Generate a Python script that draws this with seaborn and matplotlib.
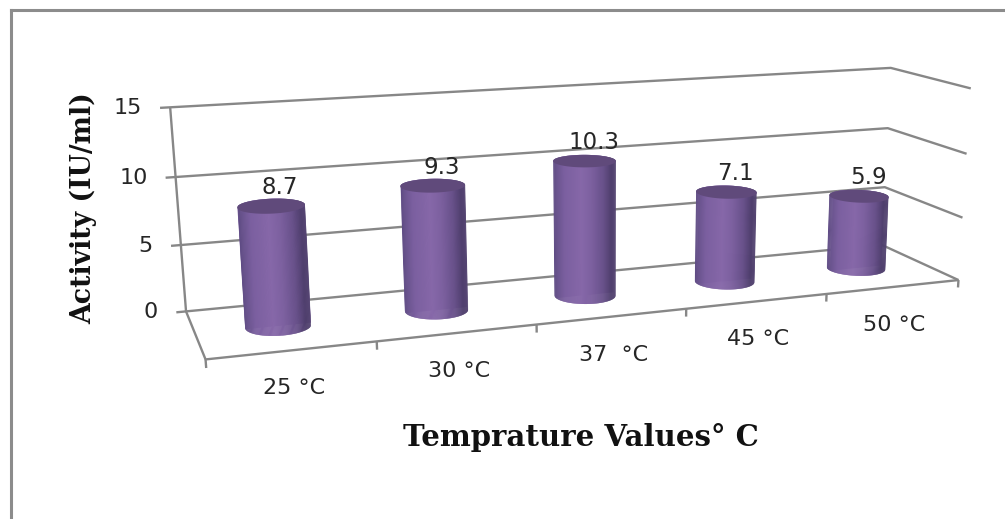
import numpy as np
import pandas as pd
import matplotlib
matplotlib.use("Agg")
import matplotlib.pyplot as plt
from matplotlib.collections import PolyCollection
from matplotlib.patches import Polygon
from matplotlib.transforms import Affine2D, Transform
import seaborn as sns

temps = ["25 °C", "30 °C", "37  °C", "45 °C", "50 °C"]
activity = [8.7, 9.3, 10.3, 7.1, 5.9]
y_ticks = [0, 5, 10, 15]
x_title = "Temprature Values° C"
y_title = "Activity (IU/ml)"

W, H = 1005, 519
sns.set_theme(style="white")
fig = plt.figure(figsize=(W / 100, H / 100), dpi=100, facecolor="white")
ax = fig.add_axes([0, 0, 1, 1])
sns.barplot(x=temps, y=activity, color="#8064A2", width=0.40, ax=ax, saturation=1, linewidth=0)
ax.set_xlim(-0.5, 4.5)
ax.set_axis_off()
px = Affine2D().scale(1, -1).translate(0, H)  # image pixels -> display

# camera calibration: (u along categories, value, depth) -> image pixels
calib = [
    (0, 0, 0, 185.7, 310.7), (0, 5, 0, 180.7, 244.3), (0, 10, 0, 176.0, 176.7), (0, 15, 0, 170.0, 107.7),
    (5, 0, 0, 885.0, 246.7), (5, 5, 0, 884.3, 186.0), (5, 10, 0, 886.7, 128.3), (5, 15, 0, 889.3, 68.3),
    (5, 0, 1, 956.0, 277.7), (5, 5, 1, 962.7, 216.0), (5, 10, 1, 967.3, 153.7), (5, 15, 1, 972.7, 89.0),
    (0, 0, 1, 205.0, 357.7), (1, 0, 1, 377.7, 343.0), (2, 0, 1, 537.0, 326.0), (3, 0, 1, 686.0, 310.0),
    (4, 0, 1, 825.7, 295.0),
]
A = []
for a, b, c, x, y in calib:
    A.append([a, b, c, 1, 0, 0, 0, 0, -x * a, -x * b, -x * c, -x])
    A.append([0, 0, 0, 0, a, b, c, 1, -y * a, -y * b, -y * c, -y])
CAM = np.linalg.svd(np.array(A, float))[2][-1].reshape(3, 4)


def project(u, v, w):
    u, v, w = np.broadcast_arrays(np.asarray(u, float), np.asarray(v, float), np.asarray(w, float))
    h = CAM @ np.stack([u.ravel(), v.ravel(), w.ravel(), np.ones(u.size)])
    return (h[:2] / h[2]).T


def hull(points):
    pts = sorted(map(tuple, points))
    def half(seq):
        out = []
        for p in seq:
            while len(out) > 1 and ((out[-1][0] - out[-2][0]) * (p[1] - out[-2][1])
                                    - (out[-1][1] - out[-2][1]) * (p[0] - out[-2][0])) <= 0:
                out.pop()
            out.append(p)
        return out[:-1]
    return np.array(half(pts) + half(pts[::-1]))


class BarPlane(Transform):
    input_dims = output_dims = 2
    def transform_non_affine(self, xy):
        xy = np.asarray(xy)
        return px.transform(project(xy[:, 0] + 0.5, xy[:, 1], 0.5))


GRID = "#878787"
LW = 1.7
INK = "#262626"
SANS = "DejaVu Sans"
SERIF = "DejaVu Serif"


def seg(p, **kw):
    kw.setdefault("color", GRID)
    kw.setdefault("lw", LW)
    ax.plot(p[:, 0], p[:, 1], transform=px, clip_on=False, solid_capstyle="butt", **kw)


# outer frame
for xs, ys in [((10.5, 10.5), (519, 9.5)), ((10.5, 1005), (9.5, 9.5))]:
    ax.plot(xs, ys, transform=px, color="#8c8c8c", lw=2.2, clip_on=False, solid_capstyle="projecting")

# walls and floor
for t in y_ticks:
    seg(project([-0.06, 0, 5, 5], [t, t, t, t], [0, 0, 0, 1]))
seg(project([0, 0], [0, 15], [0, 0]))
seg(project([0, 0, 5], [0, 0, 0], [0, 1, 1]))
for t in range(6):
    seg(project([t, t], [0, -0.6], [1, 1]))

# cylinders built from the seaborn bars
stops = [0, .04, .18, .45, .62, .8, .93, 1]
shade = np.array([(0x5c, 0x4a, 0x82), (0x66, 0x51, 0x8a), (0x7b, 0x5f, 0xa0), (0x87, 0x68, 0xa9),
                  (0x7c, 0x60, 0x9f), (0x68, 0x51, 0x8a), (0x4e, 0x3e, 0x6c), (0x55, 0x45, 0x72)]) / 255
ring = np.linspace(0, 2 * np.pi, 120)
for bar in list(ax.patches):
    bar.set_transform(BarPlane())
    bar.set_clip_on(False)
    bar.set_zorder(3)
    u0 = bar.get_x() + bar.get_width() / 2 + 0.5
    ru = bar.get_width() / 2
    val = bar.get_height()
    rw = 0.2
    top_ring = project(u0 + ru * np.cos(ring), val, 0.5 + rw * np.sin(ring))
    low_ring = project(u0 + ru * np.cos(ring), 0, 0.5 + rw * np.sin(ring))
    outline = hull(np.vstack([top_ring, low_ring]))
    clip = Polygon(outline, closed=True, transform=px, fc="none", ec="none")
    ax.add_patch(clip)
    # screen-space shading across the silhouette, clipped to it
    lt, rt = top_ring[np.argmin(top_ring[:, 0])], top_ring[np.argmax(top_ring[:, 0])]
    lb, rb = low_ring[np.argmin(low_ring[:, 0])], low_ring[np.argmax(low_ring[:, 0])]
    up = np.array([0, -20.0])
    s = np.linspace(0, 1, 61)
    polys, cols = [], []
    for a, b in zip(s[:-1], s[1:]):
        polys.append(np.array([lb + a * (rb - lb) - up, lb + b * (rb - lb) - up,
                               lt + b * (rt - lt) + up, lt + a * (rt - lt) + up]))
        cols.append([np.interp((a + b) / 2, stops, shade[:, k]) for k in range(3)])
    body = PolyCollection(polys, facecolors=cols, edgecolors=cols, linewidths=0.4, transform=px, zorder=4)
    ax.add_collection(body, autolim=False)
    body.set_clip_path(clip)
    ax.add_patch(Polygon(top_ring, closed=True, fc="#604A7B", ec="none", transform=px, zorder=5, clip_on=False))
    top = project(u0, val, 0.5)[0]
    ax.text(top[0] + 9, top[1] - 18.5, f"{val:.1f}", transform=px, ha="center", va="center",
            fontsize=16.5, family=SANS, color=INK, zorder=6)

# tick labels
for t in y_ticks:
    p = project(0, t, 0)[0]
    ax.text(p[0] - 28, p[1] + 0.5, str(t), transform=px, ha="right", va="center", fontsize=16,
            family=SANS, color=INK)
for i, lab in enumerate(temps):
    p = project(i + 0.5, 0, 1)[0]
    ax.text(p[0] + 1, p[1] + 38, lab, transform=px, ha="center", va="center", fontsize=16,
            family=SANS, color=INK)

ax.text(580.5, 437, x_title, transform=px, ha="center", va="center", fontsize=21, fontweight="bold",
        family=SERIF, color="#111111")
ax.text(84, 208, y_title, transform=px, rotation=90, ha="center", va="center", fontsize=19.3,
        fontweight="bold", family=SERIF, color="#111111")

fig.savefig("out.png", dpi=100, facecolor="white")
